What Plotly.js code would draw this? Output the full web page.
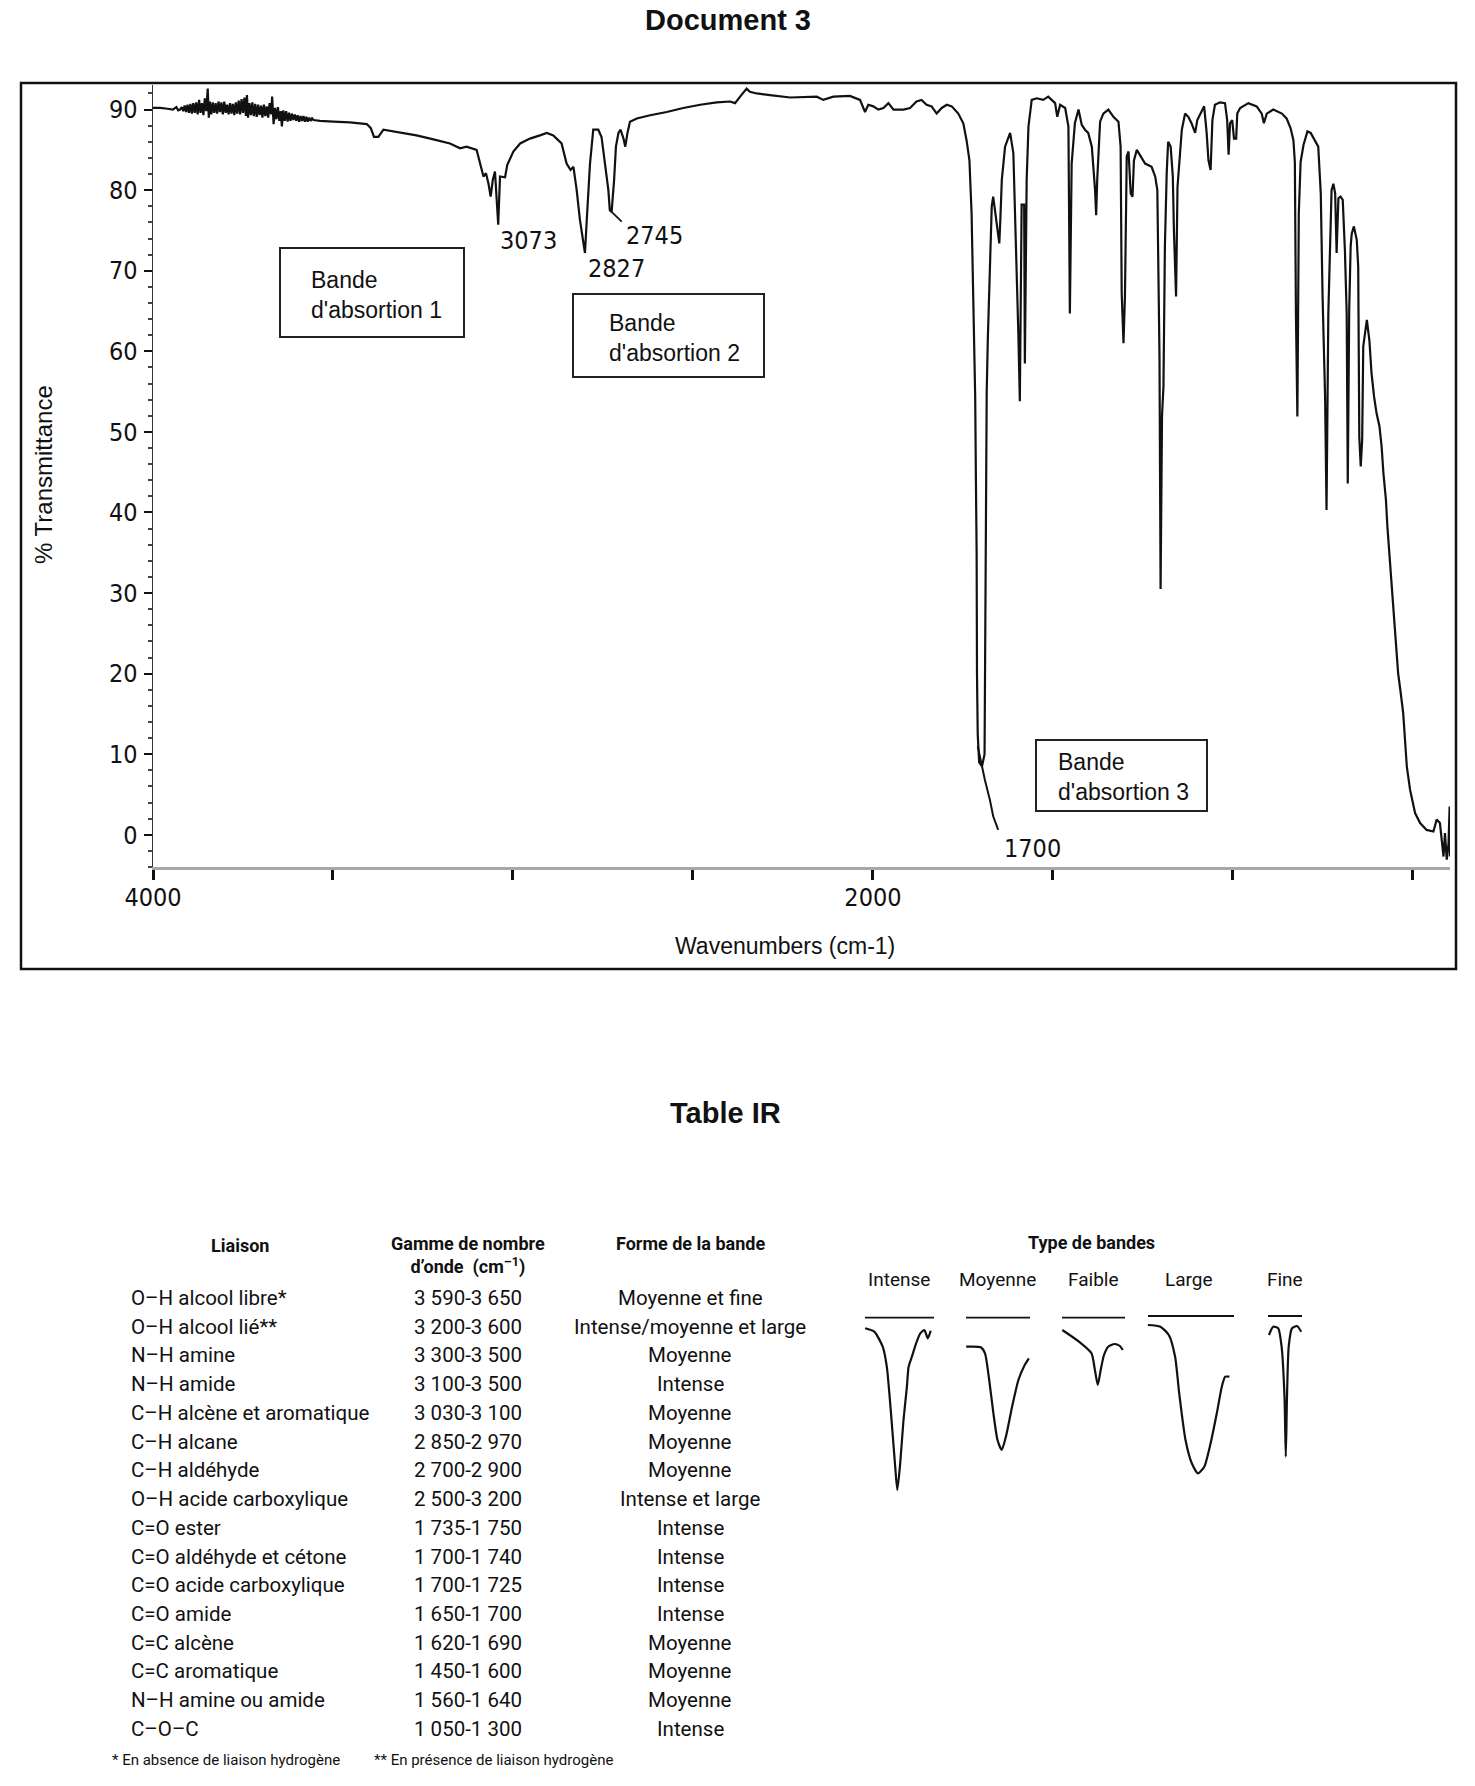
<!DOCTYPE html>
<html>
<head>
<meta charset="utf-8">
<script src="https://cdn.plot.ly/plotly-3.0.1.min.js"></script>
<style>
  html, body { margin: 0; padding: 0; background: #ffffff; }
  #chart { width: 1475px; height: 1786px; }
</style>
</head>
<body>
<div id="chart"></div>
<script>
// ---------------- DATA ----------------
// IR spectrum (wavenumber in cm-1, % transmittance)
// noisy O-H / baseline region
const wnNoise = [
  4000,3980,3960,3945,3935,3930,3925,3920,3916,3912,3908,3904,3900,3896,3892,3888,3884,3880,3876,3872,
  3868,3864,3860,3856,3852,3848,3845,3842,3838,3834,3830,3826,3822,3818,3814,3810,3806,3802,3798,3794,
  3790,3786,3782,3778,3774,3770,3766,3762,3758,3754,3750,3746,3742,3739,3736,3732,3728,3724,3720,3716,
  3712,3708,3704,3700,3696,3692,3688,3684,3680,3676,3672,3669,3665,3661,3657,3653,3649,3645,3642,3638,
  3634,3630,3626,3622,3618,3614,3610,3606,3602,3598,3594,3590,3586,3582,3578,3574,3570,3566,3562,3558,
  3554
];
const tNoise = [
  90.2,90.2,90.1,90.0,90.3,89.9,90.0,90.3,89.8,90.5,89.7,90.6,89.6,90.7,89.5,90.8,89.6,90.9,89.4,91.2,
  89.6,90.8,89.3,91.4,89.8,92.6,89.0,91.0,89.4,90.9,89.6,90.8,89.5,91.0,89.7,90.9,89.4,91.0,89.6,90.6,
  89.4,90.8,89.5,90.7,89.3,90.9,89.5,91.1,89.4,91.3,89.6,91.5,89.2,91.8,89.0,90.8,89.3,90.9,89.2,90.7,
  89.1,90.6,89.3,90.5,89.0,90.6,89.2,90.4,89.0,90.8,89.4,91.6,88.2,90.2,88.8,90.3,88.6,89.8,87.9,89.9,
  88.6,89.8,88.5,89.6,88.6,89.5,88.7,89.4,88.6,89.3,88.5,89.2,88.6,89.2,88.5,89.1,88.5,89.0,88.6,88.9,
  88.7
];
// rest of the spectrum
const wnMain = [
  3536,3499,3453,
  3406,3395,3386,3374,3360,3332,3268,3221,3175,3147,3129,3101,3092,3082,3075,3068,3062,3056,3050,3045,
  3041,3036,3022,3016,2999,2980,2953,2925,2906,2888,2865,2851,2840,2832,2823,2814,2806,2800,2795,2786,
  2777,2763,2754,2744,2735,2731,2726,2719,2714,2707,2701,2693,2688,2682,2675,2656,2619,2573,2527,2480,
  2434,2397,2383,2369,2351,2342,2323,2286,2230,2156,2138,2110,2064,2036,2022,2013,1999,1985,1971,1957,
  1943,1915,1897,1879,1865,1851,1837,1823,1809,1795,1781,1763,1749,1740,1732,1726,1721,1718,1716,1714,
  1712,1711,1709,1705,1697,1690,1688,1686,1684,1681,1678,1677,1673,1670,1666,1661,1655,1649,1646,1642,
  1633,1619,1610,1605,1601,1596,1592,1589,1587,1580,1578,1573,1568,1559,1545,1527,1513,1494,1488,1480,
  1466,1457,1453,1448,1439,1429,1420,1411,1402,1392,1383,1380,1377,1369,1360,1346,1332,1318,1312,1309,
  1304,1300,1295,1290,1284,1279,1275,1267,1258,1244,1226,1216,1210,1204,1201,1197,1193,1189,1184,1180,
  1173,1167,1164,1158,1154,1149,1142,1133,1124,1115,1105,1099,1091,1080,1073,1068,1062,1057,1050,1036,
  1022,1016,1012,1008,1002,997,991,988,980,957,934,920,914,906,888,864,851,840,832,828,
  825,821,817,812,804,793,784,772,763,756,751,744,740,735,730,726,721,716,712,707,
  701,695,689,684,681,677,673,670,664,656,652,649,645,641,638,633,628,621,615,608,
  601,593,587,582,575,571,565,558,550,541,535,531,527,522,517,508,494,480,462,443,
  434,425,420,415,411,406,401,398,397
];
const tMain = [
  88.6,88.5,88.4,
  88.2,87.7,86.6,86.6,87.5,87.3,86.8,86.3,85.8,85.2,85.4,85.0,83.3,81.7,82.1,80.8,79.2,81.3,82.3,78.0,
  75.7,81.7,81.6,83.1,84.8,85.8,86.4,86.8,87.1,86.8,85.8,83.3,82.5,82.9,80.0,76.3,74.2,72.2,76.3,83.3,
  87.5,87.5,86.6,82.9,80.0,77.5,77.3,81.3,85.4,87.1,87.5,86.4,85.4,87.1,88.5,88.9,89.3,89.7,90.2,90.6,
  90.9,91.0,90.8,91.6,92.6,92.2,92.0,91.8,91.5,91.6,91.2,91.6,91.7,91.2,89.7,90.6,90.4,90.0,90.2,90.8,
  90.0,90.0,90.2,91.0,91.2,90.6,90.4,89.5,90.2,90.6,90.4,89.5,88.3,86.2,83.7,77.1,64.7,60.6,54.4,44.0,
  35.0,20.0,12.5,9.0,8.5,10.0,30.0,44.0,55.0,61.4,66.0,69.3,73.4,78.0,79.2,77.5,75.5,73.4,76.5,81.3,
  85.4,87.1,84.6,77.3,70.9,62.0,53.8,70.5,78.2,78.2,58.5,81.3,87.9,91.2,91.4,91.2,91.6,90.8,89.1,90.6,
  90.2,87.9,64.7,83.3,88.3,90.0,88.1,87.5,87.1,85.4,80.0,76.9,81.3,88.5,89.5,90.0,89.1,88.5,85.4,67.2,
  61.0,66.8,84.2,84.8,79.6,79.2,83.7,85.0,84.4,83.3,82.9,81.7,80.0,59.3,30.5,52.0,55.6,73.0,82.1,86.0,
  85.4,81.7,75.1,66.8,80.4,83.7,87.5,89.5,89.1,88.3,87.1,88.7,89.5,90.4,87.1,83.7,82.5,88.7,90.6,90.9,
  90.8,88.7,84.4,88.3,88.7,86.4,86.4,89.5,90.2,90.8,90.4,89.5,88.3,89.5,90.0,89.5,88.9,87.7,86.2,83.5,
  64.7,51.9,77.1,83.5,85.6,87.3,87.1,86.2,85.4,79.6,66.8,54.4,40.3,64.7,72.2,80.0,80.8,79.6,72.2,79.0,
  79.2,78.8,72.6,64.7,43.6,65.1,73.0,74.6,75.5,73.8,70.5,49.4,45.7,49.0,60.6,62.2,63.9,61.4,57.3,54.4,
  52.3,50.7,48.2,44.9,41.6,38.3,34.5,30.0,25.0,20.0,18.0,16.7,15.1,11.8,8.5,5.6,2.7,1.45,0.6,0.4,
  1.9,1.45,-0.6,-2.7,0.2,-3.1,-1.0,3.5,-2.7
];
const wavenumbers = wnNoise.concat(wnMain);
const transmittance = tNoise.concat(tMain);

// short marker tails under two peak labels
const tail2745X = [2726, 2698];
const tail2745Y = [77.3, 76.1];
const tail1700X = [1709, 1700, 1689, 1675, 1666, 1652];
const tail1700Y = [11.0, 9.0, 6.8, 4.3, 2.3, 0.6];

const yTicks = [0,10,20,30,40,50,60,70,80,90];
const peakLabels = ['3073','2827','2745','1700'];
const bandBoxLabels = ["Bande<br>d'absortion 1","Bande<br>d'absortion 2","Bande<br>d'absortion 3"];

// Table IR
const liaisons = ['O–H alcool libre*','O–H alcool lié**','N–H amine','N–H amide','C–H alcène et aromatique',
  'C–H alcane','C–H aldéhyde','O–H acide carboxylique','C=O ester','C=O aldéhyde et cétone',
  'C=O acide carboxylique','C=O amide','C=C alcène','C=C aromatique','N–H amine ou amide','C–O–C'];
const gammes = ['3 590-3 650','3 200-3 600','3 300-3 500','3 100-3 500','3 030-3 100','2 850-2 970',
  '2 700-2 900','2 500-3 200','1 735-1 750','1 700-1 740','1 700-1 725','1 650-1 700','1 620-1 690',
  '1 450-1 600','1 560-1 640','1 050-1 300'];
const formes = ['Moyenne et fine','Intense/moyenne et large','Moyenne','Intense','Moyenne','Moyenne',
  'Moyenne','Intense et large','Intense','Intense','Intense','Intense','Moyenne','Moyenne','Moyenne','Intense'];
const tableHeaders = ['Liaison','Gamme de nombre<br>d’onde  (cm<sup>–1</sup>)','Forme de la bande'];
const footnotes = ['* En absence de liaison hydrogène','** En présence de liaison hydrogène'];

// Type de bandes : schematic profiles (sketch units, depth downward)
const bandTypes = ['Intense','Moyenne','Faible','Large','Fine'];
const bandBaseX = [[15,84],[116,180],[212,275],[298,384],[418,452]];
const bandBaseY = [17.7,17.7,17.7,16,16];
const bandProfX = [
  [15.1,24.3,32.7,36.8,41,45.2,47.3,50.2,53.5,56.9,58.6,61.9,66.1,70.3,74.4,77.8,80.7],
  [116.2,130.8,135,139.2,143.4,147.5,151.7,155.9,162.1,168.4,174.7,178.9],
  [212.3,229,241.5,244.9,247.8,250.7,254,258.2,264.5,269.9,272.8],
  [297.9,310.4,318.8,325.1,329.2,335.5,341.8,348,354.3,360.6,366.8,371.8,375.2,379.4],
  [419,423.2,428.2,431.6,434.5,435.8,437,438.7,442,447,451.2]
];
const bandProfY = [
  [28.3,31.7,46.7,66.7,113.3,166.7,190,163.3,120,86.7,66.7,56.7,43.3,33.3,30,38.3,30.7],
  [46.7,47.3,53.3,80,113.3,140,150,136.7,106.7,80,65,58.3],
  [30,41.7,53.3,70,85,70,55,46.7,44,46,50],
  [25,26.7,35,56.7,93.3,140,163.3,173.3,166.7,143.3,113.3,86.7,76.7,76.7],
  [35,26.7,28.3,46.7,96.7,156.7,96.7,46.7,28.3,26,31.7]
];

// ---------------- LAYOUT HELPERS ----------------
const W = 1475, H = 1786;
const px = x => x / W;
const py = y => 1 - y / H;
const NARROW = '"Liberation Sans Narrow", "Arial Narrow", "DejaVu Sans Condensed", sans-serif';
const SANS = '"Liberation Sans", Arial, sans-serif';
const TAB = 'Roboto, "Liberation Sans", sans-serif';
const INK = '#111111';

const annotations = [];
function txt(x, y, text, o) {
  o = o || {};
  annotations.push({
    xref: 'paper', yref: 'paper', x: px(x), y: py(y), text: text, showarrow: false,
    xanchor: o.xa || 'center', yanchor: o.ya || 'middle', align: o.align || 'center',
    textangle: o.angle || 0,
    font: { family: o.family || SANS, size: o.size || 20, color: INK }
  });
}

// titles
txt(728, 20, '<b>Document 3</b>', { size: 29 });
txt(725, 1113, '<b>Table IR</b>', { size: 29 });
// axis titles
txt(785, 946, 'Wavenumbers (cm-1)', { size: 23 });
txt(43, 475, '% Transmittance', { size: 24, angle: -90 });
// peak labels
const peakPos = [[528, 240], [616, 268], [654, 236], [1032, 848]];
peakLabels.forEach((t, i) => txt(peakPos[i][0], peakPos[i][1], t, { family: NARROW, size: 25 }));
// band boxes
const boxRects = [[280, 248, 464, 337], [573, 294, 764, 377], [1036, 740, 1207, 811]];
const boxText = [[309, 294.5], [607, 338], [1056, 776.5]];
bandBoxLabels.forEach((t, i) => txt(boxText[i][0], boxText[i][1], t, { xa: 'left', align: 'left', size: 23 }));

// table
const hdrX = [240, 468, 690];
const hdrY = [1245, 1255, 1243];
tableHeaders.forEach((t, i) => txt(hdrX[i], hdrY[i], '<b>' + t + '</b>', { family: TAB, size: 18 }));
for (let i = 0; i < liaisons.length; i++) {
  const y = 1298 + i * 28.73;
  txt(129, y, liaisons[i], { family: TAB, size: 20.5, xa: 'left', align: 'left' });
  txt(468, y, gammes[i], { family: TAB, size: 20.5 });
  txt(690, y, formes[i], { family: TAB, size: 20.5 });
}
txt(110, 1760, footnotes[0], { family: TAB, size: 15, xa: 'left', align: 'left' });
txt(372, 1760, footnotes[1], { family: TAB, size: 15, xa: 'left', align: 'left' });
// type de bandes
txt(1091, 1242, '<b>Type de bandes</b>', { family: TAB, size: 18 });
const typeX = [899, 997, 1093, 1189, 1285];
bandTypes.forEach((t, i) => txt(typeX[i], 1279, t, { family: TAB, size: 19 }));

// shapes: outer frame + boxes
const shapes = [{
  type: 'rect', xref: 'paper', yref: 'paper',
  x0: px(21), x1: px(1456), y0: py(969), y1: py(83),
  line: { color: INK, width: 2.5 }
}];
boxRects.forEach(r => shapes.push({
  type: 'rect', xref: 'paper', yref: 'paper',
  x0: px(r[0]), x1: px(r[2]), y0: py(r[3]), y1: py(r[1]),
  line: { color: '#222', width: 2 }
}));

// ---------------- TRACES ----------------
const traces = [
  { x: wavenumbers, y: transmittance, type: 'scatter', mode: 'lines',
    line: { color: INK, width: 2.2 }, hoverinfo: 'skip', xaxis: 'x', yaxis: 'y' },
  { x: tail2745X, y: tail2745Y, type: 'scatter', mode: 'lines',
    line: { color: INK, width: 1.8 }, hoverinfo: 'skip', xaxis: 'x', yaxis: 'y' },
  { x: tail1700X, y: tail1700Y, type: 'scatter', mode: 'lines',
    line: { color: INK, width: 2 }, hoverinfo: 'skip', xaxis: 'x', yaxis: 'y' }
];
for (let i = 0; i < bandTypes.length; i++) {
  traces.push({ x: bandBaseX[i], y: [bandBaseY[i], bandBaseY[i]], type: 'scatter', mode: 'lines',
    line: { color: INK, width: 1.8 }, hoverinfo: 'skip', xaxis: 'x2', yaxis: 'y2' });
  traces.push({ x: bandProfX[i], y: bandProfY[i], type: 'scatter', mode: 'lines',
    line: { color: INK, width: 2.2, shape: 'spline', smoothing: 0.6 }, hoverinfo: 'skip', xaxis: 'x2', yaxis: 'y2' });
}

const layout = {
  width: W, height: H,
  margin: { l: 0, r: 0, t: 0, b: 0 },
  paper_bgcolor: '#ffffff', plot_bgcolor: 'rgba(0,0,0,0)',
  showlegend: false,
  xaxis: {
    domain: [px(153), px(1450)], range: [4000, 397], anchor: 'y',
    tickmode: 'linear', tick0: 0, dtick: 2000,
    ticks: 'outside', ticklen: 10, tickwidth: 3, tickcolor: INK,
    minor: { tick0: 0, dtick: 500, ticks: 'outside', ticklen: 10, tickwidth: 3, tickcolor: INK },
    showline: true, linecolor: '#a8a8a8', linewidth: 3,
    showgrid: false, zeroline: false, ticklabelstandoff: -4,
    tickfont: { family: NARROW, size: 25, color: INK }
  },
  yaxis: {
    domain: [py(867), py(85.4)], range: [-4, 93], anchor: 'x',
    tickmode: 'array', tickvals: yTicks,
    ticks: 'outside', ticklen: 8, tickwidth: 2, tickcolor: INK,
    minor: { dtick: 2, tick0: 0, ticks: 'outside', ticklen: 4, tickwidth: 2, tickcolor: '#444' },
    showline: true, linecolor: '#333', linewidth: 1.5,
    showgrid: false, zeroline: false, ticklabelstandoff: 1,
    tickfont: { family: NARROW, size: 25, color: INK }
  },
  xaxis2: { domain: [px(850), px(1320)], range: [0, 470], anchor: 'y2', visible: false },
  yaxis2: { domain: [py(1500), py(1300)], range: [200, 0], anchor: 'x2', visible: false },
  annotations: annotations,
  shapes: shapes
};

Plotly.newPlot('chart', traces, layout, { staticPlot: true, displayModeBar: false });
</script>
</body>
</html>
